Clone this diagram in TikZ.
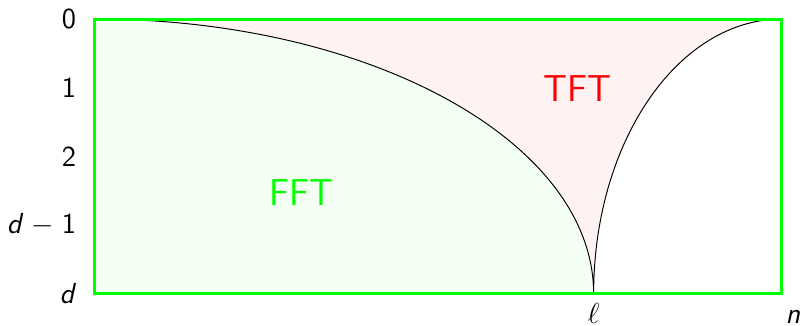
\documentclass[tikz,border=0pt]{standalone}
\usepackage{tikz}
\definecolor{fftc}{HTML}{00FF00}
\definecolor{tftc}{HTML}{FF0000}
\definecolor{fftbg}{HTML}{F2FFF2}
\definecolor{tftbg}{HTML}{FFF2F2}
\def\lpos{7.26}

\begin{document}
\begin{tikzpicture}[x=1cm,y=1cm,font=\fontsize{12}{14}\selectfont\sffamily]
        \useasboundingbox (-1.383,0.277) rectangle (10.41,-4.469);
        \fill[fftbg] (0,0) arc[start angle=90,end angle=0,x radius=\lpos,y radius=4] -- (0,-4) -- cycle;
        \fill[tftbg] (0,0) arc[start angle=90,end angle=0,x radius=\lpos,y radius=4]
          arc[start angle=180,end angle=90,x radius=10-\lpos,y radius=4] -- cycle;
        \draw[black,line width=0.4pt] (0,0) arc[start angle=90,end angle=0,x radius=\lpos,y radius=4]
          arc[start angle=180,end angle=90,x radius=10-\lpos,y radius=4];
        \draw[fftc,line width=1.25pt] (0,0) rectangle (10,-4);
        \foreach \y/\t in {0/0,1/1,2/2,3/{\textit{d}\;$-$\;1},4/{\textit{d}}} {\node[left] (lv\y) at (-0.15,-\y) {\t};}
        \node[anchor=base] (lell) at (\lpos,-4.44) {$\ell$};
        \node[anchor=base west] (ln) at (9.93,-4.44) {\textit{n}};
        \node[text=fftc,font=\fontsize{15.5}{18}\selectfont\sffamily] (fft) at (3.0,-2.53) {FFT};
        \node[text=tftc,font=\fontsize{15.5}{18}\selectfont\sffamily] (tft) at (7.02,-1.01) {TFT};
      \end{tikzpicture}
\end{document}
